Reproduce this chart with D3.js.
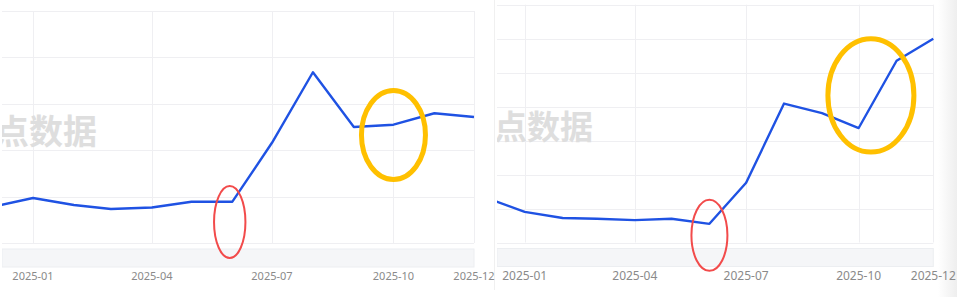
<!DOCTYPE html>
<html>
<head>
<meta charset="utf-8">
<script src="https://cdn.jsdelivr.net/npm/d3@7"></script>
<style>
  html, body { margin: 0; padding: 0; background: #fff; }
  svg { display: block; }
</style>
</head>
<body>
<div id="chart"></div>
<script>
// monthly points, same months in both panels
var months = ["2024-12","2025-01","2025-02","2025-03","2025-04","2025-05","2025-06",
              "2025-07","2025-08","2025-09","2025-10","2025-11","2025-12"];
var leftValues  = [39, 48.5, 41, 36.6, 38.3, 44.5, 44.5, 108, 184, 125, 127.5, 139.8, 135.8];
var rightValues = [13.1, 9.0, 7.2, 7.0, 6.6, 7.0, 5.5, 17.6, 40.9, 38.1, 33.7, 53.5, 60.0];
var tickLabels  = ["2025-01","2025-04","2025-07","2025-10","2025-12"];
var leftYTicks  = [0, 50, 100, 150, 200, 250];
var rightYTicks = [0, 10, 20, 30, 40, 50, 60, 70];
// hand drawn circles: centre date, centre value
var leftMarks  = [{date: "2025-05-30", value: 22.6, kind: "red"},
                  {date: "2025-10-01", value: 116.4, kind: "yellow"}];
var rightMarks = [{date: "2025-06-01", value: 2.1, kind: "red"},
                  {date: "2025-10-11", value: 43.3, kind: "yellow"}];

var parse = d3.timeParse("%Y-%m");
var parseDay = d3.timeParse("%Y-%m-%d");

var W = 957, H = 297;
var svg = d3.select("#chart").append("svg")
  .attr("width", W).attr("height", H);

// soft shadow on far right
var defs = svg.append("defs");
var grad = defs.append("linearGradient").attr("id", "shade");
grad.append("stop").attr("offset", "0%").attr("stop-color", "#fff");
grad.append("stop").attr("offset", "100%").attr("stop-color", "#eeeeee");
svg.append("rect").attr("x", 938).attr("y", 0).attr("width", 19).attr("height", H)
  .attr("fill", "url(#shade)");

// thin divider between the two screenshots
svg.append("line").attr("x1", 494.5).attr("x2", 494.5).attr("y1", 0).attr("y2", 290)
  .attr("stroke", "#f0f0f0");

function drawPanel(cfg) {
  var g = svg.append("g");

  defs.append("clipPath").attr("id", cfg.id + "-clip")
    .append("rect").attr("x", cfg.left).attr("y", 0)
    .attr("width", cfg.clipRight - cfg.left).attr("height", H);

  var x = d3.scaleUtc()
    .domain([parse("2025-01"), parse("2025-12")])
    .range([cfg.x0, cfg.x1]);
  var y = d3.scaleLinear()
    .domain(cfg.yDomain)
    .range([cfg.bottom, cfg.top]);

  var clipped = g.append("g").attr("clip-path", "url(#" + cfg.id + "-clip)");

  // horizontal grid
  clipped.selectAll(".hgrid").data(cfg.yTicks).enter().append("line")
    .attr("x1", cfg.left).attr("x2", cfg.x1)
    .attr("y1", function(d) { return Math.round(y(d)) + 0.5; })
    .attr("y2", function(d) { return Math.round(y(d)) + 0.5; })
    .attr("stroke", "#efeff2");

  // vertical grid
  clipped.selectAll(".vgrid").data(tickLabels).enter().append("line")
    .attr("x1", function(d) { return Math.round(x(parse(d))) + 0.5; })
    .attr("x2", function(d) { return Math.round(x(parse(d))) + 0.5; })
    .attr("y1", y(cfg.yDomain[1])).attr("y2", y(0))
    .attr("stroke", "#efeff2");

  // watermark (cut at the panel edge, as in the screenshot)
  clipped.append("text")
    .attr("x", cfg.wmX).attr("y", cfg.wmY)
    .attr("font-family", "'Noto Sans CJK SC', sans-serif")
    .attr("font-weight", "bold")
    .attr("font-size", cfg.wmSize)
    .attr("fill", "#dedede")
    .text("点数据");

  // slider band under the plot
  clipped.append("rect")
    .attr("x", cfg.left).attr("y", cfg.bottom + 6)
    .attr("width", cfg.x1 - cfg.left).attr("height", 18)
    .attr("fill", "#f5f6f8")
    .attr("stroke", "#eceef1");

  // line
  var pts = months.map(function(m, i) { return {date: parse(m), value: cfg.values[i]}; });
  var line = d3.line()
    .x(function(d) { return x(d.date); })
    .y(function(d) { return y(d.value); });
  defs.append("clipPath").attr("id", cfg.id + "-plot")
    .append("rect").attr("x", cfg.left).attr("y", 0)
    .attr("width", cfg.x1 - cfg.left + 2).attr("height", H);
  g.append("path")
    .datum(pts)
    .attr("clip-path", "url(#" + cfg.id + "-plot)")
    .attr("fill", "none")
    .attr("stroke", "#1f52e3")
    .attr("stroke-width", 2.4)
    .attr("stroke-linejoin", "round")
    .attr("d", line);

  // axis labels
  g.selectAll(".lbl").data(tickLabels).enter().append("text")
    .attr("x", function(d) { return x(parse(d)); })
    .attr("y", cfg.labelY)
    .attr("text-anchor", "middle")
    .attr("font-family", "'Noto Sans', sans-serif")
    .attr("font-size", cfg.labelSize)
    .attr("fill", "#8a8a8a")
    .text(function(d) { return d; });

  // circles drawn over the screenshot
  g.selectAll(".mark").data(cfg.marks).enter().append("ellipse")
    .attr("cx", function(d) { return x(parseDay(d.date)); })
    .attr("cy", function(d) { return y(d.value); })
    .attr("rx", function(d) { return d.kind == "red" ? cfg.redR[0] : cfg.yelR[0]; })
    .attr("ry", function(d) { return d.kind == "red" ? cfg.redR[1] : cfg.yelR[1]; })
    .attr("fill", "none")
    .attr("stroke", function(d) { return d.kind == "red" ? "#f24b4b" : "#ffc000"; })
    .attr("stroke-width", function(d) { return d.kind == "red" ? 2 : 5; });
}

drawPanel({
  id: "left", left: 2, clipRight: 494, x0: 33, x1: 474,
  top: 11, bottom: 243, yDomain: [0, 250], yTicks: leftYTicks,
  values: leftValues, marks: leftMarks,
  redR: [15.7, 36], yelR: [32, 44.5],
  wmX: -5, wmY: 144, wmSize: 34,
  labelY: 279.5, labelSize: 11
});

drawPanel({
  id: "right", left: 497, clipRight: 957, x0: 524.7, x1: 933.3,
  top: 4.7, bottom: 242.5, yDomain: [0, 70], yTicks: rightYTicks,
  values: rightValues, marks: rightMarks,
  redR: [18, 35.5], yelR: [43, 56.7],
  wmX: 494, wmY: 139, wmSize: 33,
  labelY: 279.5, labelSize: 12
});
</script>
</body>
</html>
